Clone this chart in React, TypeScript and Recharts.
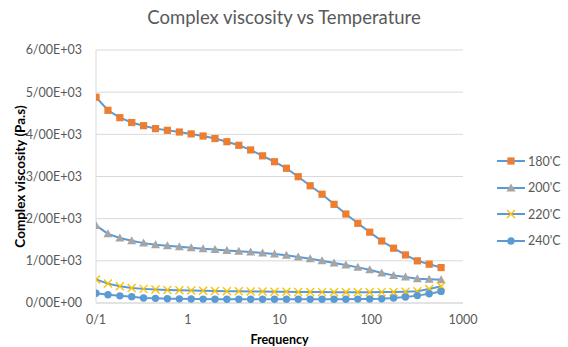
import React from "react"
import { LineChart, Line, XAxis, YAxis, CartesianGrid, Label } from "recharts"

const frequency = [
  0.1, 0.135, 0.182, 0.245, 0.33, 0.445, 0.6, 0.81, 1.09, 1.47,
  1.98, 2.67, 3.6, 4.85, 6.54, 8.82, 11.9, 16.0, 21.6, 29.1,
  39.3, 52.9, 71.4, 96.2, 130, 175, 236, 318, 428, 577,
]

const visc180 = [
  4880, 4570, 4395, 4280, 4205, 4135, 4095, 4055, 4010, 3960,
  3900, 3825, 3740, 3630, 3490, 3350, 3195, 2995, 2780, 2580,
  2340, 2110, 1890, 1680, 1470, 1300, 1140, 1000, 920, 840,
]

const visc200 = [
  1840, 1640, 1540, 1475, 1420, 1380, 1355, 1335, 1310, 1285,
  1270, 1245, 1230, 1210, 1185, 1160, 1130, 1090, 1050, 1000,
  950, 900, 845, 790, 710, 655, 615, 575, 565, 550,
]

const visc220 = [
  560, 460, 395, 355, 335, 320, 310, 300, 295, 290,
  285, 280, 277, 273, 270, 268, 265, 262, 260, 258,
  256, 255, 255, 255, 258, 262, 268, 280, 330, 395,
]

const visc240 = [
  230, 195, 170, 150, 120, 110, 102, 98, 95, 92,
  90, 88, 88, 88, 88, 88, 88, 88, 88, 88,
  88, 90, 92, 95, 100, 118, 142, 175, 220, 275,
]

const xTicks = [0.1, 1, 10, 100, 1000]
const yTicks = [0, 1000, 2000, 3000, 4000, 5000, 6000]

const seriesNames = ["180'C", "200'C", "220'C", "240'C"]
const seriesKeys = ["s180", "s200", "s220", "s240"]

const data = frequency.map((f, i) => ({
  f,
  s180: visc180[i],
  s200: visc200[i],
  s220: visc220[i],
  s240: visc240[i],
}))

const LINE = "#5B9BD5"
const FONT = "Lato, 'Open Sans', sans-serif"
const TXT = "#595959"
const markerColors = ["#ED7D31", "#A5A5A5", "#FFC000", "#5B9BD5"]

const fmtY = (v: number) => {
  if (v === 0) return "0/00E+00"
  const e = Math.floor(Math.log10(v))
  const m = (v / Math.pow(10, e)).toFixed(2).replace(".", "/")
  return `${m}E+${String(e).padStart(2, "0")}`
}
const fmtX = (v: number) => (v < 1 ? String(v).replace(".", "/") : String(v))

function Marker({ kind, cx, cy }: { kind: number; cx: number; cy: number }) {
  const c = markerColors[kind]
  if (cx == null || cy == null) return null
  if (kind === 0) return <rect x={cx - 3.6} y={cy - 3.6} width={7.2} height={7.2} fill={c} />
  if (kind === 1)
    return <polygon points={`${cx},${cy - 4.5} ${cx + 4.5},${cy + 3.5} ${cx - 4.5},${cy + 3.5}`} fill={c} />
  if (kind === 2)
    return (
      <g stroke={c} strokeWidth={1.4}>
        <line x1={cx - 4} y1={cy - 4} x2={cx + 4} y2={cy + 4} />
        <line x1={cx - 4} y1={cy + 4} x2={cx + 4} y2={cy - 4} />
      </g>
    )
  return <circle cx={cx} cy={cy} r={3.7} fill={c} />
}

// legend drawn next to the chart, like Excel's right-side legend
const SideLegend = () => (
  <div style={{ position: "absolute", left: 496, top: 148, fontFamily: FONT, fontSize: 12.5, color: TXT }}>
    {seriesNames.map((n, i) => (
      <div key={n} style={{ display: "flex", alignItems: "center", height: 26.5 }}>
        <svg width={30} height={12}>
          <line x1={1} y1={6} x2={29} y2={6} stroke={LINE} strokeWidth={2} />
          <Marker kind={i} cx={15} cy={6} />
        </svg>
        <span style={{ marginLeft: 2 }}>{n}</span>
      </div>
    ))}
  </div>
)

export default function App() {
  return (
    <div style={{ position: "absolute", left: 0, top: 0, width: 568, height: 347, background: "#fff" }}>
      <div
        style={{
          position: "absolute",
          top: 6,
          left: 0,
          width: 568,
          textAlign: "center",
          fontFamily: FONT,
          fontSize: 18.5,
          color: TXT,
        }}
      >
        Complex viscosity vs Temperature
      </div>
      <LineChart width={568} height={347} data={data} margin={{ top: 50, right: 105, bottom: 0, left: 0 }}>
        <CartesianGrid vertical={false} stroke="#D9D9D9" />
        <XAxis
          dataKey="f"
          type="number"
          scale="log"
          domain={[0.1, 1000]}
          ticks={xTicks}
          allowDataOverflow
          tickFormatter={fmtX}
          tickLine={false}
          tickMargin={6}
          axisLine={{ stroke: "#D9D9D9" }}
          tick={{ fill: TXT, fontSize: 12.5, fontFamily: FONT }}
          height={44}
        >
          <Label
            value="Frequency"
            position="insideBottom"
            offset={3}
            style={{ fill: "#000", fontWeight: 700, fontSize: 12.5, fontFamily: FONT }}
          />
        </XAxis>
        <YAxis
          type="number"
          domain={[0, 6000]}
          ticks={yTicks}
          tickFormatter={fmtY}
          tickLine={false}
          tickMargin={8}
          axisLine={{ stroke: "#D9D9D9" }}
          tick={{ fill: TXT, fontSize: 12.5, fontFamily: FONT }}
          width={96}
        >
          <Label
            value="Complex viscosity (Pa.s)"
            angle={-90}
            position="insideLeft"
            offset={20}
            style={{ textAnchor: "middle", fill: "#000", fontWeight: 700, fontSize: 13.5, fontFamily: FONT }}
          />
        </YAxis>
        {seriesKeys.map((k, i) => (
          <Line
            key={k}
            dataKey={k}
            name={seriesNames[i]}
            stroke={LINE}
            strokeWidth={2}
            dot={(p: any) => <Marker key={`${k}-${p.index}`} kind={i} cx={p.cx} cy={p.cy} />}
            activeDot={false}
            isAnimationActive={false}
          />
        ))}
      </LineChart>
      <SideLegend />
    </div>
  )
}
